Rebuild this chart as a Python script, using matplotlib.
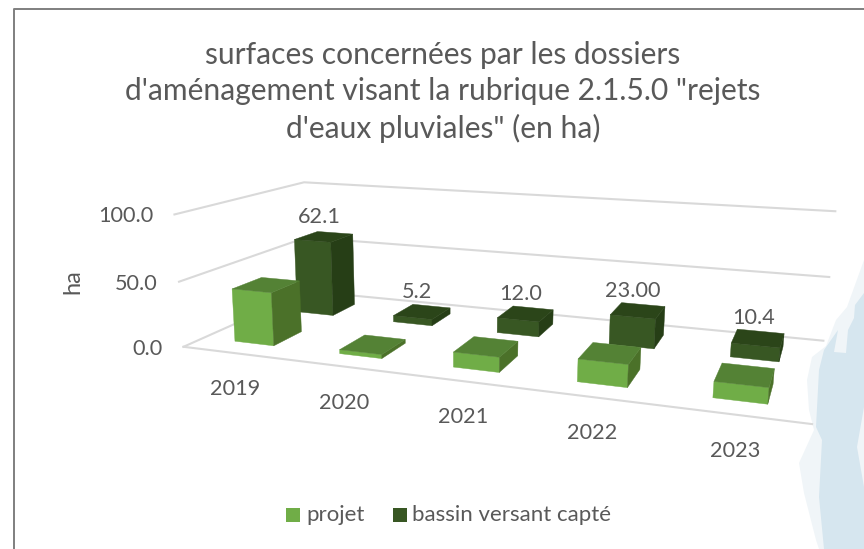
#!/usr/bin/env python3
"""3D-look clustered columns: rainwater discharge surfaces per year."""

import matplotlib

matplotlib.use("Agg")

import matplotlib.pyplot as plt
import numpy as np
from matplotlib.patches import Polygon, Rectangle

plt.rcParams["font.family"] = ["Lato", "DejaVu Sans"]

YEARS = ["2019", "2020", "2021", "2022", "2023"]
PROJET = [41.0, 3.0, 11.0, 16.0, 11.0]
BASSIN = [62.1, 5.2, 12.0, 23.0, 10.4]
BASSIN_LABELS = ["62.1", "5.2", "12.0", "23.00", "10.4"]
Y_TICKS = [0.0, 50.0, 100.0]
TITLE = (
    "surfaces concernées par les dossiers\n"
    "d'aménagement visant la rubrique 2.1.5.0 \"rejets\n"
    "d'eaux pluviales\" (en ha)"
)

TEXT_COLOR = "#595959"
GRID_COLOR = "#D9D9D9"
PROJET_FACES = ("#70AD47", "#4B7129", "#548235")  # front, side, top
BASSIN_FACES = ("#385723", "#263E16", "#2B4519")

BAR_WIDTH = 0.38
PROJET_DEPTH = (0.14, 0.36)
BASSIN_DEPTH = (0.64, 0.85)

# pairs of (category, depth, value) and the pixel they land on
CALIBRATION = [
    ((0, 0, 0), (186, 347)),
    ((5, 0, 0), (812, 424)),
    ((0, 1, 0), (306, 291)),
    ((5, 1, 0), (824, 341)),
    ((0, 0, 50), (178, 282)),
    ((0, 1, 50), (306, 237)),
    ((5, 1, 50), (829, 277)),
    ((0, 0, 100), (173, 214)),
    ((0, 1, 100), (306, 183)),
    ((5, 1, 100), (835, 211)),
]

WASH_PALE = [
    (864, 260), (847, 307), (836, 320), (826, 346), (812, 357), (807, 380), (809, 410),
    (814, 430), (799, 463), (804, 493), (816, 540), (819, 549), (864, 549),
]
WASH_BLUE = [
    (864, 293), (855, 305), (854, 318), (848, 330), (846, 353), (834, 352), (838, 330),
    (824, 350), (819, 370), (816, 427), (822, 440), (819, 497), (824, 549), (864, 549),
    (864, 487), (857, 447), (864, 407),
]


def fit_camera(pairs):
    rows = []
    for (x, y, z), (px, py) in pairs:
        world = [x / 5, y, z / 100, 1]
        rows.append(world + [0, 0, 0, 0] + [-px * w for w in world])
        rows.append([0, 0, 0, 0] + world + [-py * w for w in world])
    return np.linalg.svd(np.array(rows, dtype=float))[2][-1].reshape(3, 4)


CAMERA = fit_camera(CALIBRATION)


def project(x, y, z):
    px, py, w = CAMERA @ np.array([x / 5, y, z / 100, 1.0])
    return px / w, py / w


def draw_bar(ax, index, value, depth, faces):
    x0 = index + (1 - BAR_WIDTH) / 2
    x1 = x0 + BAR_WIDTH
    y0, y1 = depth
    front = [project(x0, y0, 0), project(x1, y0, 0), project(x1, y0, value), project(x0, y0, value)]
    side = [project(x1, y0, 0), project(x1, y1, 0), project(x1, y1, value), project(x1, y0, value)]
    top = [project(x0, y0, value), project(x1, y0, value), project(x1, y1, value), project(x0, y1, value)]
    for points, color in zip((front, side, top), faces):
        ax.add_patch(Polygon(points, closed=True, facecolor=color, edgecolor=color, linewidth=0.3, zorder=3))


fig = plt.figure(figsize=(8.64, 5.49), dpi=100)
ax = fig.add_axes([0, 0, 1, 1])
ax.set_xlim(0, 864)
ax.set_ylim(549, 0)
ax.axis("off")

# watercolour wash behind the chart, right-hand edge
ax.fill(*zip(*WASH_PALE), color="#F0F5F8", lw=0, zorder=0)
ax.fill(*zip(*WASH_BLUE), color="#D6E6EF", lw=0, zorder=0.5)

# chart frame
ax.plot([14, 14, 864], [549, 9, 9], color="#7F7F7F", lw=1.4, zorder=1)

for tick in Y_TICKS:
    pts = [project(0, 0, tick), project(0, 1, tick), project(5, 1, tick)]
    ax.plot(*zip(*pts), color=GRID_COLOR, lw=1.5, zorder=2)
    px, py = project(0, 0, tick)
    ax.text(px - 21, py + 2, f"{tick:.1f}", ha="right", va="center", fontsize=15.6, color=TEXT_COLOR)
ax.plot(*zip(project(0, 0, 0), project(5, 0, 0)), color=GRID_COLOR, lw=1.5, zorder=2)

for i, (year, projet, bassin, label) in enumerate(zip(YEARS, PROJET, BASSIN, BASSIN_LABELS)):
    draw_bar(ax, i, bassin, BASSIN_DEPTH, BASSIN_FACES)
    draw_bar(ax, i, projet, PROJET_DEPTH, PROJET_FACES)
    px, py = project(i + 0.5, 0, 0)
    ax.text(px, py + 36, year, ha="center", va="center", fontsize=15.6, color=TEXT_COLOR)
    px, py = project(i + 0.5, sum(BASSIN_DEPTH) / 2, bassin)
    ax.text(px - 5, py - 20, label, ha="center", va="center", fontsize=15.6, color=TEXT_COLOR)

ax.text(443, 92, TITLE, ha="center", va="center", fontsize=21.6, color=TEXT_COLOR, linespacing=1.36)
ax.text(73, 282, "ha", ha="center", va="center", rotation=90, fontsize=17, color=TEXT_COLOR)

# legend
ax.add_patch(Rectangle((286, 508), 14, 14, facecolor=PROJET_FACES[0], edgecolor="none"))
ax.text(306, 515, "projet", ha="left", va="center", fontsize=16, color=TEXT_COLOR)
ax.add_patch(Rectangle((393, 508), 14, 14, facecolor=BASSIN_FACES[0], edgecolor="none"))
ax.text(412, 515, "bassin versant capté", ha="left", va="center", fontsize=16, color=TEXT_COLOR)

fig.savefig("out.png", dpi=100)
